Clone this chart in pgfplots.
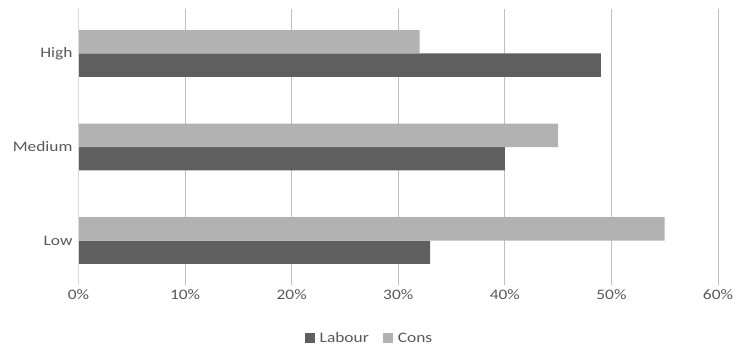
\documentclass[border=0pt]{standalone}
\usepackage{pgfplots}
\pgfplotsset{compat=1.18}
\usepackage{fontspec}
\setmainfont{Carlito}[FakeStretch=1.2]
\definecolor{labour}{HTML}{5F5F5F}
\definecolor{cons}{HTML}{B2B2B2}
\definecolor{grid}{HTML}{D9D9D9}
\definecolor{txt}{HTML}{595959}
\begin{document}
\begin{tikzpicture}
\begin{axis}[
  scale only axis,
  width=639.5bp, height=275bp,
  at={(0,0)}, anchor=south west,
  xmin=0, xmax=60,
  ymin=-0.47, ymax=2.47,
  xtick={0,10,...,60},
  xticklabel={\pgfmathprintnumber{\tick}\%},
  /pgf/number format/assume math mode=true,
  ytick={0,1,2},
  yticklabels={Low,Medium,High},
  xmajorgrids=true,
  ymajorgrids=false,
  major tick length=0pt,
  major grid style={grid, line width=1bp},
  axis line style={draw=none},
  axis x line*=bottom,
  axis y line*=left,
  tick style={draw=none},
  ticklabel style={font=\fontsize{14.5bp}{16bp}\selectfont, text=txt},
  xticklabel style={yshift=-2bp},
  yticklabel style={xshift=-2.5bp},
  xbar,
  bar width=0.25,
  legend style={at={(0.455,-0.197)}, anchor=center, draw=none,
    legend columns=2, font=\fontsize{14.5bp}{16bp}\selectfont, text=txt,
    /tikz/every odd column/.append style={column sep=0bp},
    /tikz/every even column/.append style={column sep=12bp}},
  legend image code/.code={\fill[#1] (0bp,-4.5bp) rectangle (10bp,5.5bp); \path (0bp,0bp) -- (13bp,0bp);},
]
\addplot[fill=labour, draw=none, bar shift=-0.125] coordinates {(33,0) (40,1) (49,2)};
\addplot[fill=cons, draw=none, bar shift=0.125] coordinates {(55,0) (45,1) (32,2)};
\legend{Labour,Cons}
\end{axis}
\draw[grid, line width=1.3bp] (0,0) -- (0,275bp);
\pgfresetboundingbox
\path (-78.5bp,-62.5bp) rectangle (657.5bp,284.5bp);
\end{tikzpicture}
\end{document}
